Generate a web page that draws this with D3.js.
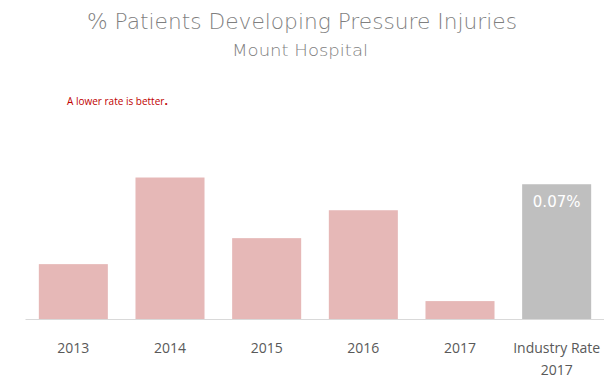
<!DOCTYPE html>
<html>
<head>
<meta charset="utf-8">
<script src="https://cdn.jsdelivr.net/npm/d3@7"></script>
<style>
  body { margin: 0; background: #fff; }
  svg { display: block; }
</style>
</head>
<body>
<div id="chart"></div>
<script>
// categories and values (% patients)
const categories = ["2013", "2014", "2015", "2016", "2017", "Industry Rate\n2017"];
const rates = [0.0285, 0.0735, 0.042, 0.0565, 0.0093, 0.07];
const barColors = ["#e6b8b7", "#e6b8b7", "#e6b8b7", "#e6b8b7", "#e6b8b7", "#bfbfbf"];
const valueLabels = ["", "", "", "", "", "0.07%"];

const width = 604, height = 378;

const svg = d3.select("#chart")
  .append("svg")
    .attr("width", width)
    .attr("height", height);

// title
svg.append("text")
  .attr("x", 302).attr("y", 29)
  .attr("text-anchor", "middle")
  .style("font-family", "'DejaVu Sans', sans-serif")
  .style("font-weight", 200)
  .style("font-size", "22px")
  .style("fill", "#7f7f7f")
  .attr("textLength", 430)
  .attr("lengthAdjust", "spacingAndGlyphs")
  .text("% Patients Developing Pressure Injuries");

svg.append("text")
  .attr("x", 300).attr("y", 56)
  .attr("text-anchor", "middle")
  .style("font-family", "'DejaVu Sans', sans-serif")
  .style("font-weight", 200)
  .style("font-size", "16px")
  .style("fill", "#7f7f7f")
  .attr("textLength", 136)
  .attr("lengthAdjust", "spacingAndGlyphs")
  .text("Mount Hospital");

// note
const note = svg.append("text")
  .attr("x", 67).attr("y", 105)
  .style("font-family", "'Open Sans', sans-serif")
  .style("font-size", "10px")
  .style("fill", "#c00000");
note.append("tspan").text("A lower rate is better");
note.append("tspan").style("font-weight", "bold").style("font-size", "12px").text(".");

// scales
const x = d3.scaleBand()
  .domain(categories)
  .range([25, 605])
  .paddingInner(0.286)
  .paddingOuter(0.143);

const y = d3.scaleLinear()
  .domain([0, 0.08])
  .range([319, 165]);

// bars
svg.selectAll("rect.bar")
  .data(categories)
  .enter()
  .append("rect")
    .attr("class", "bar")
    .attr("x", d => x(d))
    .attr("width", x.bandwidth())
    .attr("y", (d, i) => y(rates[i]))
    .attr("height", (d, i) => y(0) - y(rates[i]))
    .style("fill", (d, i) => barColors[i]);

// value label
svg.selectAll("text.val")
  .data(categories)
  .enter()
  .append("text")
    .attr("class", "val")
    .attr("x", d => x(d) + x.bandwidth() / 2)
    .attr("y", (d, i) => y(rates[i]) + 23)
    .attr("text-anchor", "middle")
    .style("font-family", "'DejaVu Sans', sans-serif")
    .style("font-size", "15px")
    .style("fill", "#fff")
    .text((d, i) => valueLabels[i]);

// x axis
const axis = svg.append("g")
  .attr("transform", "translate(0," + y(0) + ")")
  .call(d3.axisBottom(x).tickSize(0).tickPadding(0).tickFormat(""));
axis.select(".domain").attr("stroke", "#d9d9d9").attr("stroke-width", 1.2);

axis.selectAll(".tick text").remove();
axis.selectAll(".tick").each(function(d) {
  const t = d3.select(this).append("text")
    .attr("text-anchor", "middle")
    .attr("y", 34)
    .style("font-family", "'Open Sans', sans-serif")
    .style("font-size", "14px")
    .style("fill", "#595959");
  d.split("\n").forEach((line, i) => {
    t.append("tspan").attr("x", 0).attr("dy", i === 0 ? 0 : 22).text(line);
  });
});
</script>
</body>
</html>
